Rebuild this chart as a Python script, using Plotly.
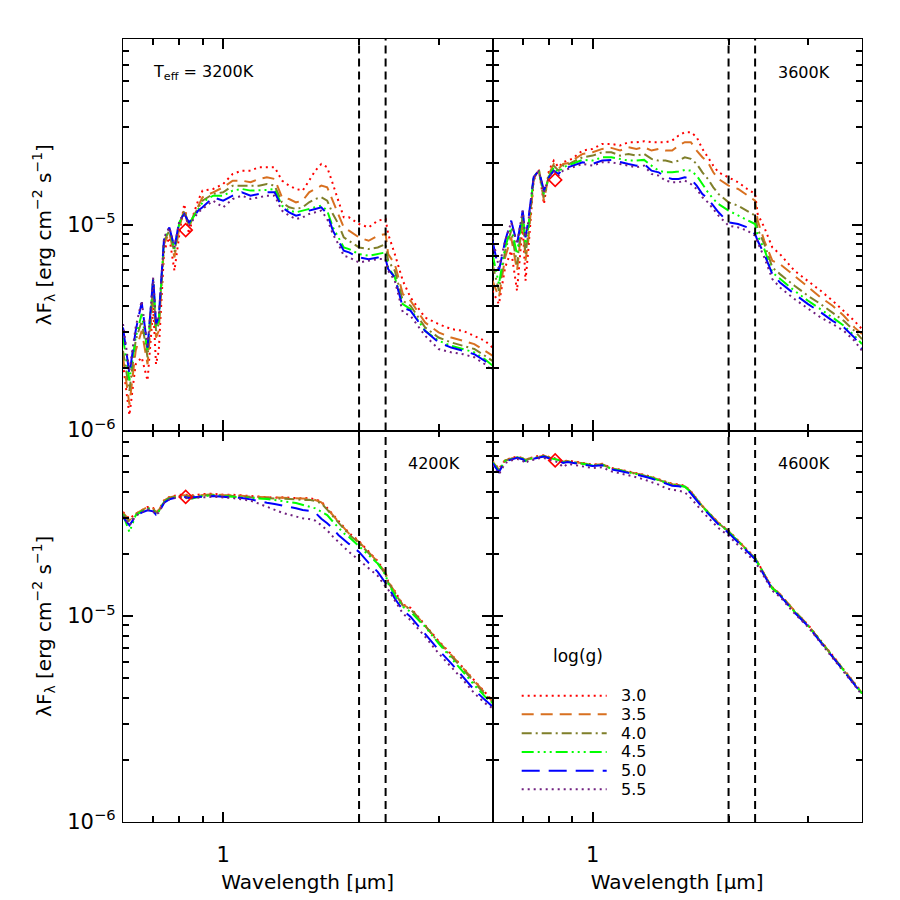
import math
import plotly.graph_objects as go
from plotly.subplots import make_subplots

# wavelength grid [micron]
wl = [0.60, 0.62, 0.64, 0.66, 0.68, 0.70, 0.71, 0.72, 0.74, 0.76, 0.78, 0.80, 0.82,
      0.84, 0.86, 0.88, 0.90, 0.95, 1.00, 1.05, 1.10, 1.15, 1.20, 1.25, 1.30, 1.35,
      1.40, 1.45, 1.50, 1.55, 1.60, 1.65, 1.70, 1.75, 1.80, 1.85, 1.90, 2.00, 2.10,
      2.20, 2.29, 2.32, 2.40, 2.50, 2.60, 2.80, 3.00, 3.20, 3.40, 3.60, 3.80, 3.95]

# lambda*F_lambda in units of 1e-5 erg cm^-2 s^-1
t3200_g30 = [0.209, 0.118, 0.209, 0.226, 0.174, 0.395, 0.209, 0.243, 0.746, 0.866, 0.596, 0.899, 1.259,
             0.899, 1.126, 1.307, 1.463, 1.490, 1.576, 1.763, 1.830, 1.830, 1.900, 1.900, 1.900, 1.636,
             1.547, 1.490, 1.463, 1.636, 1.830, 1.973, 1.900, 1.576, 1.307, 1.084, 1.084, 1.006, 0.969,
             1.045, 1.064, 0.899, 0.718, 0.533, 0.442, 0.353, 0.328, 0.310, 0.304, 0.288, 0.272, 0.252]
t3200_g35 = [0.226, 0.133, 0.243, 0.304, 0.209, 0.459, 0.282, 0.304, 0.804, 0.916, 0.692, 0.969, 1.191,
             0.969, 1.105, 1.236, 1.357, 1.436, 1.518, 1.636, 1.636, 1.606, 1.667, 1.699, 1.667, 1.357,
             1.332, 1.283, 1.307, 1.436, 1.490, 1.547, 1.518, 1.307, 1.126, 0.969, 0.934, 0.866, 0.834,
             0.883, 0.899, 0.718, 0.642, 0.459, 0.426, 0.334, 0.299, 0.282, 0.272, 0.262, 0.243, 0.230]
t3200_g40 = [0.243, 0.155, 0.272, 0.340, 0.226, 0.513, 0.304, 0.328, 0.834, 0.934, 0.732, 1.006, 1.169,
             0.988, 1.105, 1.213, 1.307, 1.409, 1.436, 1.547, 1.547, 1.547, 1.547, 1.576, 1.547, 1.283,
             1.213, 1.191, 1.213, 1.283, 1.332, 1.357, 1.307, 1.126, 1.006, 0.866, 0.834, 0.774, 0.760,
             0.774, 0.804, 0.667, 0.596, 0.426, 0.403, 0.316, 0.282, 0.267, 0.257, 0.248, 0.230, 0.217]
t3200_g45 = [0.282, 0.174, 0.282, 0.367, 0.243, 0.543, 0.316, 0.340, 0.850, 0.951, 0.760, 1.025, 1.147,
             1.006, 1.092, 1.191, 1.283, 1.383, 1.383, 1.463, 1.490, 1.463, 1.463, 1.474, 1.490, 1.236,
             1.169, 1.147, 1.169, 1.191, 1.213, 1.236, 1.169, 0.969, 0.866, 0.774, 0.760, 0.718, 0.705,
             0.718, 0.732, 0.619, 0.553, 0.410, 0.388, 0.304, 0.272, 0.257, 0.248, 0.239, 0.221, 0.206]
t3200_g50 = [0.316, 0.187, 0.304, 0.418, 0.252, 0.553, 0.328, 0.353, 0.866, 0.969, 0.774, 1.045, 1.126,
             1.025, 1.084, 1.169, 1.213, 1.357, 1.307, 1.383, 1.436, 1.383, 1.409, 1.436, 1.436, 1.213,
             1.147, 1.105, 1.126, 1.169, 1.191, 1.213, 1.126, 0.934, 0.834, 0.746, 0.732, 0.692, 0.679,
             0.692, 0.679, 0.607, 0.553, 0.395, 0.381, 0.304, 0.267, 0.252, 0.243, 0.234, 0.217, 0.198]
t3200_g55 = [0.328, 0.194, 0.316, 0.426, 0.252, 0.553, 0.328, 0.353, 0.866, 0.969, 0.774, 1.045, 1.126,
             0.988, 1.064, 1.147, 1.191, 1.307, 1.213, 1.332, 1.383, 1.332, 1.357, 1.383, 1.383, 1.169,
             1.105, 1.064, 1.084, 1.126, 1.147, 1.169, 1.064, 0.899, 0.804, 0.705, 0.692, 0.654, 0.667,
             0.679, 0.679, 0.596, 0.533, 0.374, 0.360, 0.288, 0.248, 0.239, 0.234, 0.226, 0.209, 0.194]

t3600_g30 = [0.476, 0.410, 0.619, 0.746, 0.476, 1.006, 0.533, 0.746, 1.636, 1.865, 1.259, 1.830, 2.048,
             1.900, 2.010, 2.048, 2.087, 2.292, 2.335, 2.470, 2.470, 2.424, 2.517, 2.517, 2.545, 2.517,
             2.517, 2.517, 2.564, 2.713, 2.817, 2.817, 2.663, 2.335, 2.126, 1.936, 1.796, 1.699, 1.606,
             1.490, 1.409, 1.126, 0.969, 0.774, 0.718, 0.596, 0.533, 0.476, 0.426, 0.381, 0.340, 0.310]
t3600_g35 = [0.533, 0.442, 0.692, 0.866, 0.596, 1.084, 0.667, 0.834, 1.667, 1.844, 1.307, 1.763, 1.973,
             1.865, 1.973, 1.987, 2.048, 2.207, 2.248, 2.335, 2.361, 2.292, 2.378, 2.335, 2.378, 2.292,
             2.335, 2.292, 2.292, 2.424, 2.517, 2.517, 2.292, 2.126, 2.010, 1.796, 1.667, 1.547, 1.490,
             1.383, 1.307, 1.045, 0.834, 0.667, 0.642, 0.563, 0.494, 0.442, 0.403, 0.360, 0.316, 0.293]
t3600_g40 = [0.642, 0.476, 0.746, 0.934, 0.642, 1.126, 0.718, 0.899, 1.699, 1.844, 1.357, 1.731, 1.936,
             1.830, 1.936, 1.951, 2.010, 2.126, 2.166, 2.248, 2.248, 2.166, 2.207, 2.166, 2.207, 2.087,
             2.048, 2.048, 2.010, 2.048, 2.126, 2.087, 1.973, 1.796, 1.667, 1.518, 1.409, 1.283, 1.236,
             1.169, 1.105, 0.951, 0.804, 0.619, 0.574, 0.504, 0.450, 0.410, 0.374, 0.340, 0.304, 0.277]
t3600_g45 = [0.718, 0.513, 0.774, 0.969, 0.718, 1.147, 0.804, 0.969, 1.699, 1.830, 1.409, 1.712, 1.900,
             1.796, 1.900, 1.936, 1.973, 2.064, 2.048, 2.126, 2.126, 2.087, 2.048, 2.048, 2.064, 1.936,
             1.830, 1.796, 1.796, 1.812, 1.844, 1.830, 1.731, 1.576, 1.436, 1.332, 1.259, 1.169, 1.105,
             1.045, 1.006, 0.883, 0.760, 0.585, 0.543, 0.476, 0.426, 0.388, 0.353, 0.322, 0.288, 0.262]
t3600_g50 = [0.834, 0.596, 0.834, 1.045, 0.804, 1.169, 0.866, 1.045, 1.699, 1.830, 1.463, 1.699, 1.830,
             1.763, 1.865, 1.900, 1.936, 2.010, 1.973, 2.048, 2.064, 2.010, 1.973, 1.936, 1.973, 1.830,
             1.796, 1.699, 1.667, 1.667, 1.699, 1.667, 1.547, 1.409, 1.332, 1.236, 1.147, 1.025, 1.006,
             0.969, 0.899, 0.834, 0.718, 0.574, 0.523, 0.459, 0.410, 0.374, 0.340, 0.316, 0.282, 0.248]
t3600_g55 = [0.866, 0.619, 0.834, 1.025, 0.804, 1.169, 0.866, 1.025, 1.699, 1.830, 1.436, 1.699, 1.830,
             1.731, 1.830, 1.865, 1.900, 1.973, 1.936, 2.010, 2.010, 1.973, 1.936, 1.900, 1.936, 1.763,
             1.731, 1.636, 1.606, 1.606, 1.636, 1.576, 1.490, 1.357, 1.283, 1.191, 1.105, 0.988, 0.969,
             0.934, 0.883, 0.819, 0.692, 0.543, 0.494, 0.434, 0.388, 0.353, 0.328, 0.304, 0.272, 0.243]

t4200_g30 = [3.209, 2.979, 3.150, 3.269, 3.394, 3.356, 3.233, 3.269, 3.657, 3.796, 3.838, 3.895, 3.895,
             3.867, 3.867, 3.895, 3.924, 3.939, 3.895, 3.895, 3.867, 3.825, 3.810, 3.782, 3.768, 3.782,
             3.754, 3.754, 3.740, 3.754, 3.698, 3.603, 3.356, 3.115, 2.892, 2.684, 2.538, 2.312, 2.068,
             1.850, 1.623, 1.478, 1.322, 1.139, 1.098, 0.911, 0.757, 0.652, 0.561, 0.484, 0.424, 0.387]
t4200_g35 = [3.186, 2.924, 3.150, 3.269, 3.394, 3.331, 3.209, 3.269, 3.657, 3.782, 3.825, 3.867, 3.867,
             3.838, 3.853, 3.867, 3.895, 3.924, 3.881, 3.881, 3.853, 3.810, 3.796, 3.768, 3.754, 3.768,
             3.740, 3.740, 3.712, 3.726, 3.671, 3.576, 3.331, 3.092, 2.870, 2.664, 2.519, 2.295, 2.052,
             1.835, 1.611, 1.468, 1.312, 1.131, 1.089, 0.904, 0.751, 0.647, 0.557, 0.480, 0.421, 0.384]
t4200_g40 = [3.150, 2.870, 3.115, 3.233, 3.356, 3.306, 3.186, 3.233, 3.616, 3.754, 3.796, 3.838, 3.838,
             3.810, 3.825, 3.838, 3.867, 3.895, 3.853, 3.853, 3.825, 3.782, 3.768, 3.740, 3.726, 3.740,
             3.712, 3.698, 3.671, 3.685, 3.630, 3.537, 3.294, 3.058, 2.838, 2.634, 2.491, 2.270, 2.029,
             1.815, 1.593, 1.457, 1.298, 1.122, 1.082, 0.898, 0.745, 0.640, 0.551, 0.475, 0.417, 0.380]
t4200_g45 = [3.115, 2.566, 3.092, 3.233, 3.331, 3.269, 3.186, 3.233, 3.589, 3.726, 3.782, 3.810, 3.810,
             3.698, 3.754, 3.782, 3.838, 3.867, 3.838, 3.838, 3.810, 3.768, 3.740, 3.712, 3.671, 3.643,
             3.589, 3.550, 3.484, 3.407, 3.344, 3.221, 3.103, 2.881, 2.684, 2.528, 2.427, 2.178, 1.977,
             1.801, 1.581, 1.441, 1.265, 1.110, 1.050, 0.888, 0.737, 0.623, 0.537, 0.462, 0.406, 0.377]
t4200_g50 = [3.035, 2.765, 3.069, 3.186, 3.269, 3.233, 3.115, 3.186, 3.562, 3.698, 3.754, 3.796, 3.796,
             3.754, 3.782, 3.782, 3.810, 3.838, 3.810, 3.796, 3.754, 3.698, 3.616, 3.562, 3.510, 3.458,
             3.394, 3.344, 3.281, 3.257, 3.186, 2.979, 2.828, 2.664, 2.482, 2.347, 2.245, 2.052, 1.815,
             1.641, 1.446, 1.388, 1.218, 1.070, 0.993, 0.824, 0.684, 0.589, 0.507, 0.437, 0.391, 0.363]
t4200_g55 = [3.069, 2.765, 3.069, 3.209, 3.306, 3.233, 3.115, 3.186, 3.562, 3.698, 3.754, 3.796, 3.782,
             3.726, 3.754, 3.754, 3.782, 3.810, 3.782, 3.754, 3.698, 3.643, 3.524, 3.394, 3.294, 3.186,
             3.115, 3.047, 2.990, 2.968, 2.914, 2.765, 2.615, 2.436, 2.295, 2.170, 2.052, 1.870, 1.703,
             1.569, 1.388, 1.347, 1.191, 1.030, 0.956, 0.794, 0.659, 0.568, 0.489, 0.421, 0.377, 0.356]

t4600_g30 = [5.68, 5.20, 5.76, 5.88, 5.97, 5.88, 5.76, 5.86, 5.92, 6.04, 6.06, 5.95, 5.89,
             5.80, 5.67, 5.71, 5.67, 5.57, 5.46, 5.51, 5.26, 5.16, 5.07, 4.98, 4.87, 4.76,
             4.64, 4.51, 4.40, 4.37, 4.31, 4.05, 3.71, 3.44, 3.22, 3.01, 2.85, 2.60, 2.32,
             2.10, 1.93, 1.83, 1.60, 1.38, 1.28, 1.06, 0.907, 0.760, 0.642, 0.543, 0.467, 0.425]
t4600_g35 = [5.65, 5.16, 5.73, 5.86, 5.94, 5.86, 5.73, 5.83, 5.90, 6.01, 6.03, 5.92, 5.86,
             5.77, 5.64, 5.68, 5.64, 5.54, 5.44, 5.48, 5.24, 5.14, 5.05, 4.96, 4.85, 4.74,
             4.62, 4.49, 4.38, 4.35, 4.29, 4.03, 3.69, 3.43, 3.21, 3.00, 2.84, 2.59, 2.31,
             2.09, 1.92, 1.82, 1.59, 1.37, 1.28, 1.06, 0.903, 0.755, 0.639, 0.540, 0.465, 0.423]
t4600_g40 = [5.62, 5.12, 5.71, 5.84, 5.92, 5.84, 5.71, 5.81, 5.88, 5.99, 6.01, 5.90, 5.84,
             5.75, 5.62, 5.66, 5.62, 5.52, 5.42, 5.46, 5.22, 5.12, 5.03, 4.94, 4.83, 4.72,
             4.60, 4.47, 4.37, 4.33, 4.27, 4.02, 3.68, 3.42, 3.20, 2.99, 2.83, 2.58, 2.31,
             2.09, 1.91, 1.82, 1.59, 1.37, 1.27, 1.05, 0.900, 0.753, 0.637, 0.539, 0.463, 0.421]
t4600_g45 = [5.60, 5.08, 5.70, 5.83, 5.91, 5.83, 5.69, 5.80, 5.87, 5.98, 6.00, 5.89, 5.83,
             5.74, 5.60, 5.65, 5.61, 5.51, 5.41, 5.45, 5.21, 5.11, 5.02, 4.93, 4.82, 4.71,
             4.59, 4.46, 4.36, 4.32, 4.26, 4.01, 3.67, 3.41, 3.19, 2.98, 2.82, 2.57, 2.30,
             2.08, 1.91, 1.81, 1.58, 1.36, 1.27, 1.05, 0.898, 0.751, 0.635, 0.537, 0.462, 0.420]
t4600_g50 = [5.55, 5.02, 5.66, 5.80, 5.89, 5.80, 5.64, 5.77, 5.84, 5.95, 5.97, 5.86, 5.80,
             5.70, 5.56, 5.62, 5.58, 5.48, 5.37, 5.42, 5.17, 5.08, 4.98, 4.89, 4.78, 4.67,
             4.55, 4.42, 4.31, 4.28, 4.22, 3.96, 3.63, 3.38, 3.16, 2.95, 2.79, 2.54, 2.28,
             2.06, 1.89, 1.79, 1.57, 1.35, 1.26, 1.04, 0.893, 0.747, 0.632, 0.535, 0.460, 0.418]
t4600_g55 = [5.40, 4.90, 5.55, 5.72, 5.82, 5.70, 5.52, 5.68, 5.76, 5.86, 5.88, 5.76, 5.70,
             5.58, 5.30, 5.50, 5.46, 5.36, 5.25, 5.30, 5.06, 4.95, 4.85, 4.74, 4.62, 4.49,
             4.36, 4.20, 4.12, 4.08, 4.00, 3.75, 3.45, 3.22, 3.02, 2.83, 2.68, 2.46, 2.20,
             2.00, 1.84, 1.76, 1.55, 1.33, 1.24, 1.03, 0.885, 0.740, 0.625, 0.529, 0.455, 0.414]

# photometric point (red diamond) per panel
diamond_wl = [0.826, 0.826, 0.826, 0.826]
diamond_flux = [0.94, 1.65, 3.80, 5.72]

band_edges = [2.0, 2.29]

logg_labels = ['3.0', '3.5', '4.0', '4.5', '5.0', '5.5']
colors = ['#ff0000', '#d87020', '#7f7f2a', '#00ff00', '#0000ff', '#702080']
dashes = ['2px,4px', '12px,7px', '10px,4px,2px,4px', '12px,4px,2px,4px,2px,4px,2px,4px',
          '18px,9px', '2px,4px']

panels = [
    (1, 1, 'T<sub>eff</sub> = 3200K', [t3200_g30, t3200_g35, t3200_g40, t3200_g45, t3200_g50, t3200_g55]),
    (1, 2, '3600K', [t3600_g30, t3600_g35, t3600_g40, t3600_g45, t3600_g50, t3600_g55]),
    (2, 1, '4200K', [t4200_g30, t4200_g35, t4200_g40, t4200_g45, t4200_g50, t4200_g55]),
    (2, 2, '4600K', [t4600_g30, t4600_g35, t4600_g40, t4600_g45, t4600_g50, t4600_g55]),
]

y_lo, y_hi = 0.995e-6, 8e-5
x_lo, x_hi = 0.6, 3.95

fig = make_subplots(rows=2, cols=2, horizontal_spacing=0, vertical_spacing=0)

for k, (r, c, label, series) in enumerate(panels):
    for i, s in enumerate(series):
        fig.add_trace(go.Scatter(x=wl, y=[v * 1e-5 for v in s], mode='lines',
                                 line=dict(color=colors[i], width=2, dash=dashes[i]),
                                 showlegend=False), row=r, col=c)
    for e in band_edges:
        fig.add_trace(go.Scatter(x=[e, e], y=[y_lo, y_hi], mode='lines',
                                 line=dict(color='black', width=2, dash='8px,5px'),
                                 showlegend=False), row=r, col=c)
    fig.add_trace(go.Scatter(x=[diamond_wl[k]], y=[diamond_flux[k] * 1e-5], mode='markers',
                             marker=dict(symbol='diamond-open', size=10, color='red',
                                         line=dict(width=1.6, color='red')),
                             showlegend=False), row=r, col=c)
    axn = '' if k == 0 else str(k + 1)
    if k == 0:
        fig.add_annotation(text=label, xref='x domain', yref='y domain', x=0.075, y=0.915,
                           xanchor='left', yanchor='middle', showarrow=False,
                           font=dict(size=16))
    else:
        fig.add_annotation(text=label, xref='x%s domain' % axn, yref='y%s domain' % axn,
                           x=0.918, y=0.915, xanchor='right', yanchor='middle',
                           showarrow=False, font=dict(size=16))

axis_common = dict(showline=True, linecolor='black', linewidth=1.4, mirror='allticks',
                   ticks='inside', ticklen=10, tickwidth=1.5, tickcolor='black',
                   showgrid=False, zeroline=False, tickfont=dict(size=21), automargin=False)

fig.update_xaxes(type='log', range=[math.log10(x_lo), math.log10(x_hi)],
                 tickvals=[1], ticktext=['1'], ticklabelstandoff=14,
                 minor=dict(tickvals=[0.7, 0.8, 0.9, 2, 3], ticks='inside', ticklen=6,
                            tickwidth=1.5, tickcolor='black', showgrid=False),
                 **axis_common)
fig.update_yaxes(type='log', range=[math.log10(y_lo), math.log10(y_hi)],
                 tickvals=[1e-6, 1e-5], ticktext=['10<sup>−6</sup>', '10<sup>−5</sup>'],
                 ticklabelstandoff=2,
                 minor=dict(tickvals=[2e-6, 3e-6, 4e-6, 5e-6, 6e-6, 7e-6, 8e-6, 9e-6,
                                      2e-5, 3e-5, 4e-5, 5e-5, 6e-5, 7e-5],
                            ticks='inside', ticklen=6, tickwidth=1.5, tickcolor='black',
                            showgrid=False),
                 **axis_common)
fig.update_xaxes(showticklabels=False, row=1)
fig.update_yaxes(showticklabels=False, col=2)
fig.update_xaxes(title=dict(text='Wavelength [μm]', font=dict(size=20), standoff=8), row=2)
fig.update_yaxes(title=dict(text='λF<sub>λ</sub> [erg cm<sup>−2</sup> s<sup>−1</sup>]',
                            font=dict(size=20), standoff=10), col=1)

# legend drawn by hand in the lower right panel
leg_x0, leg_x1, leg_tx = 0.5395, 0.6545, 0.671
leg_rows = [0.1613, 0.1375, 0.1133, 0.0894, 0.0655, 0.0418]
fig.add_annotation(text='log(g)', xref='paper', yref='paper', x=0.616, y=0.212,
                   xanchor='center', yanchor='middle', showarrow=False, font=dict(size=17))
for i, lab in enumerate(logg_labels):
    fig.add_shape(type='line', xref='paper', yref='paper', x0=leg_x0, x1=leg_x1,
                  y0=leg_rows[i], y1=leg_rows[i],
                  line=dict(color=colors[i], width=2, dash=dashes[i]))
    fig.add_annotation(text=lab, xref='paper', yref='paper', x=leg_tx, y=leg_rows[i],
                       xanchor='left', yanchor='middle', showarrow=False, font=dict(size=16))

# page body adds an 8px offset, margins compensate for it
fig.update_layout(width=900, height=900, plot_bgcolor='white', paper_bgcolor='white',
                  font=dict(family='DejaVu Sans', color='black'),
                  margin=dict(l=115, r=46, t=31, b=86), showlegend=False)

fig.write_html("out.html")
